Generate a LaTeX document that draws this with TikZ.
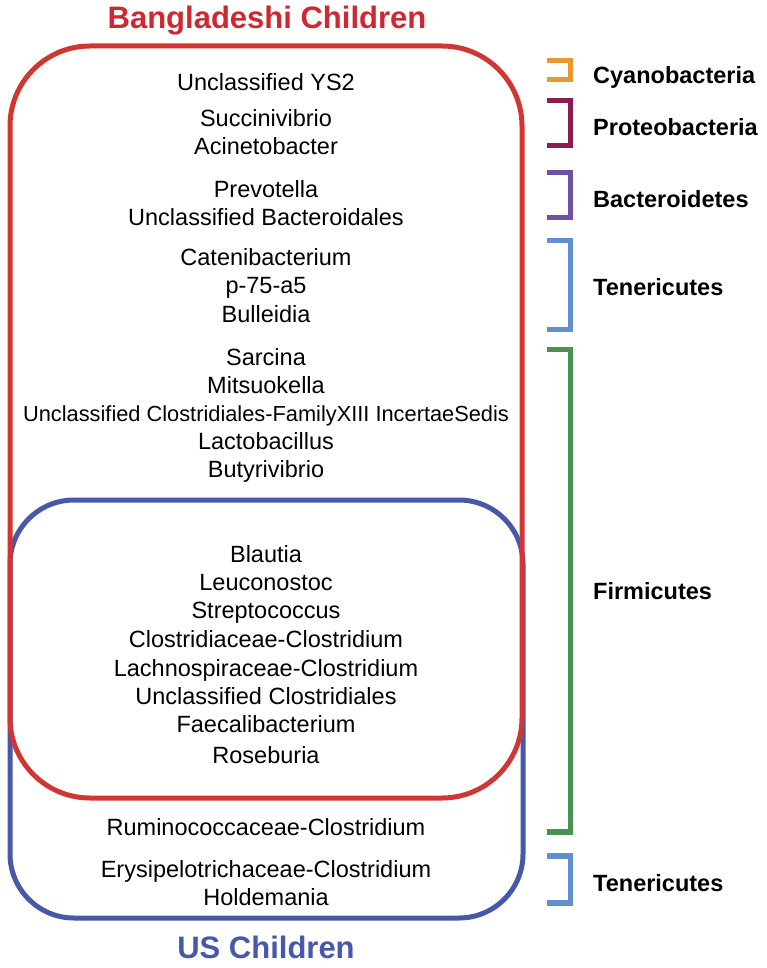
\documentclass[tikz,border=0pt]{standalone}
\usepackage{fontspec}
\setmainfont{Liberation Sans}
\definecolor{bred}{RGB}{208,54,50}
\definecolor{tred}{RGB}{206,40,50}
\definecolor{bblue}{RGB}{72,88,168}
\definecolor{corange}{RGB}{232,152,48}
\definecolor{cmaroon}{RGB}{140,28,80}
\definecolor{cpurple}{RGB}{112,82,164}
\definecolor{clblue}{RGB}{96,144,210}
\definecolor{cgreen}{RGB}{74,146,82}
\tikzset{
  taxon/.style={anchor=base, inner sep=0pt, font=\fontsize{23.5}{28}\selectfont},
  taxonsmall/.style={anchor=base, inner sep=0pt, font=\fontsize{21.8}{26}\selectfont},
  phylum/.style={anchor=base west, inner sep=0pt, font=\fontsize{23.5}{28}\selectfont\bfseries},
  title/.style={anchor=base, inner sep=0pt, font=\fontsize{31}{36}\selectfont\bfseries},
  bracket/.style={line width=5.5pt, line join=miter},
  group/.style={line width=5pt, rounded corners=#1}
}
\begin{document}
\begin{tikzpicture}[x=1pt,y=-1pt]
\useasboundingbox[fill=white] (0,0) rectangle (767,968);
% boxes
\draw[group=64, bblue] (10,500) rectangle (523,918);
\draw[group=80, bred] (10,46) rectangle (522,798);
% titles
\node[title, text=tred] (tbang) at (267,29) {Bangladeshi Children};
\node[title, text=bblue] (tus) at (266,958) {US Children};
% taxa
\node[taxon] (t1) at (266,90.4) {Unclassified YS2};
\node[taxon] (t2) at (266,126.4) {Succinivibrio};
\node[taxon] (t3) at (266,154.4) {Acinetobacter};
\node[taxon] (t4) at (266,197.4) {Prevotella};
\node[taxon] (t5) at (266,225.4) {Unclassified Bacteroidales};
\node[taxon] (t6) at (266,265.4) {Catenibacterium};
\node[taxon] (t7) at (266,293.4) {p-75-a5};
\node[taxon] (t8) at (266,322.4) {Bulleidia};
\node[taxon] (t9) at (266,365) {Sarcina};
\node[taxon] (t10) at (266,393) {Mitsuokella};
\node[taxonsmall] (t11) at (266,421) {Unclassified Clostridiales-FamilyXIII IncertaeSedis};
\node[taxon] (t12) at (266,449) {Lactobacillus};
\node[taxon] (t13) at (266,477) {Butyrivibrio};
\node[taxon] (t14) at (266,562.4) {Blautia};
\node[taxon] (t15) at (266,590.4) {Leuconostoc};
\node[taxon] (t16) at (266,618.4) {Streptococcus};
\node[taxon] (t17) at (266,647.4) {Clostridiaceae-Clostridium};
\node[taxon] (t18) at (266,676.4) {Lachnospiraceae-Clostridium};
\node[taxon] (t19) at (266,704.4) {Unclassified Clostridiales};
\node[taxon] (t20) at (266,732.4) {Faecalibacterium};
\node[taxon] (t21) at (266,763.4) {Roseburia};
\node[taxon] (t22) at (266,835.4) {Ruminococcaceae-Clostridium};
\node[taxon] (t23) at (266,877.4) {Erysipelotrichaceae-Clostridium};
\node[taxon] (t24) at (266,905.4) {Holdemania};
% brackets
\draw[bracket, corange] (547,60.5) -- (570.5,60.5) -- (570.5,79.5) -- (547,79.5);
\draw[bracket, cmaroon] (547,100.5) -- (570.5,100.5) -- (570.5,145.5) -- (547,145.5);
\draw[bracket, cpurple] (547,172.5) -- (570.5,172.5) -- (570.5,217.5) -- (547,217.5);
\draw[bracket, clblue] (547,240.5) -- (570.5,240.5) -- (570.5,329.5) -- (547,329.5);
\draw[bracket, cgreen] (547,349.5) -- (570.5,349.5) -- (570.5,832) -- (547,832);
\draw[bracket, clblue] (547,856) -- (570.5,856) -- (570.5,903) -- (547,903);
% phylum labels
\node[phylum] (p1) at (593,83.4) {Cyanobacteria};
\node[phylum] (p2) at (593,135.4) {Proteobacteria};
\node[phylum] (p3) at (593,207.4) {Bacteroidetes};
\node[phylum] (p4) at (593,295.4) {Tenericutes};
\node[phylum] (p5) at (593,599.4) {Firmicutes};
\node[phylum] (p6) at (593,891.4) {Tenericutes};
\end{tikzpicture}
\end{document}
